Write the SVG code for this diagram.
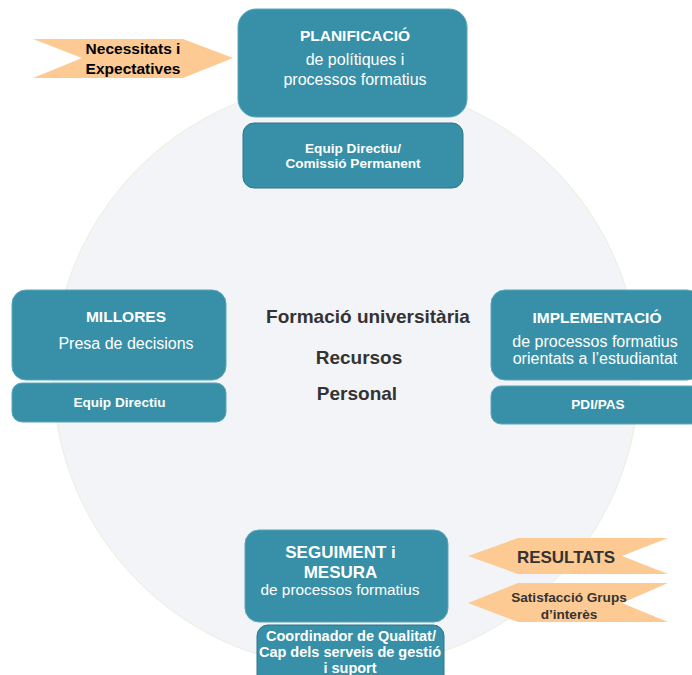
<svg xmlns="http://www.w3.org/2000/svg" width="692" height="675" viewBox="0 0 692 675">
<style>
.box{fill:#3790a7;stroke:#5aa6b9;stroke-width:1}
.sub{fill:#3790a7;stroke:#2c7689;stroke-width:1}
.arr{fill:#fdca94}
text{font-family:"Liberation Sans",Arial,sans-serif;text-anchor:middle}
.t{fill:#fff;font-weight:bold;font-size:15.5px}
.b{fill:#fff;font-size:16px}
.s{fill:#fff;font-weight:bold;font-size:13.6px}
.c{fill:#333;font-weight:bold;font-size:19px}
.a{fill:#222;font-weight:bold}
</style>
<rect width="692" height="675" fill="#fff"/>
<circle id="background-circle" cx="346" cy="375" r="293" fill="#f3f4f8" stroke="#eceedb" stroke-width="1"/>
<g id="connectors"/>
<g id="centre">
<text class="c" x="368" y="323">Formació universitària</text>
<text class="c" x="359" y="364">Recursos</text>
<text class="c" x="357" y="400">Personal</text>
</g>
<g id="planificacio">
<rect class="box" x="238" y="9" width="229" height="108" rx="18"/>
<text class="t" x="355" y="41">PLANIFICACIÓ</text>
<text class="b" x="355" y="65">de polítiques i</text>
<text class="b" x="355" y="85">processos formatius</text>
</g>
<g id="equip-comissio">
<rect class="sub" x="243" y="123" width="220" height="65" rx="11"/>
<text class="s" x="353" y="152.5">Equip Directiu/</text>
<text class="s" x="353" y="168">Comissió Permanent</text>
</g>
<g id="millores">
<rect class="box" x="12" y="290" width="214" height="90" rx="14"/>
<text class="t" x="126" y="321.5">MILLORES</text>
<text class="b" x="126" y="349">Presa de decisions</text>
</g>
<g id="equip-directiu">
<rect class="box" x="12" y="383" width="214" height="39" rx="10"/>
<text class="s" x="119.5" y="407">Equip Directiu</text>
</g>
<g id="implementacio">
<rect class="box" x="491" y="290" width="210" height="90" rx="14"/>
<text class="t" x="597" y="322.5">IMPLEMENTACIÓ</text>
<text class="b" x="595" y="346.5">de processos formatius</text>
<text class="b" x="595" y="363.5">orientats a l’estudiantat</text>
</g>
<g id="pdi-pas">
<rect class="box" x="491" y="386" width="210" height="38" rx="10"/>
<text class="s" x="598" y="409">PDI/PAS</text>
</g>
<g id="seguiment">
<rect class="box" x="245" y="530" width="203" height="92" rx="14"/>
<text class="t" x="340.5" y="558" style="font-size:17px">SEGUIMENT i</text>
<text class="t" x="340.5" y="578" style="font-size:17px">MESURA</text>
<text class="b" x="340" y="595" style="font-size:15.4px">de processos formatius</text>
</g>
<g id="coordinador">
<rect class="sub" x="257" y="625" width="187" height="65" rx="11"/>
<text class="s" x="351" y="640.5" style="font-size:14.5px">Coordinador de Qualitat/</text>
<text class="s" x="350" y="656.5" style="font-size:14.5px">Cap dels serveis de gestió</text>
<text class="s" x="350" y="672.5" style="font-size:14.5px">i suport</text>
</g>
<g id="necessitats">
<polygon class="arr" points="33,39 183,39 233,58 183,78 33,78 82,58"/>
<text class="a" x="133" y="54" style="font-size:15.5px;fill:#000">Necessitats i</text>
<text class="a" x="133" y="73.5" style="font-size:15.5px;fill:#000">Expectatives</text>
</g>
<g id="resultats">
<polygon class="arr" points="468,556 518,538 668,538 622,556 668,574 518,574"/>
<text class="a" x="566" y="563" style="font-size:17px;fill:#333">RESULTATS</text>
</g>
<g id="satisfaccio">
<polygon class="arr" points="468,603 518,583 668,583 622,603 668,622 518,622"/>
<text class="a" x="569" y="601.5" style="font-size:13.6px;fill:#333">Satisfacció Grups</text>
<text class="a" x="569" y="619" style="font-size:13.6px;fill:#333">d’interès</text>
</g>
</svg>
